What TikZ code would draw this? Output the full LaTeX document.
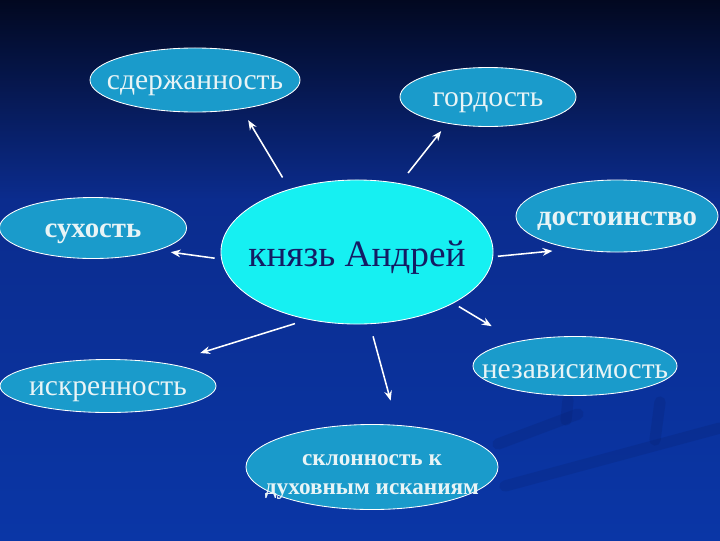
\documentclass[tikz,border=0pt]{standalone}
\usepackage{fontspec}
\setmainfont{Liberation Serif}
\usetikzlibrary{shapes,arrows.meta}
\definecolor{bgtop}{HTML}{020820}
\definecolor{bgmid}{HTML}{0B2C8E}
\definecolor{bgbot}{HTML}{0A36A6}
\definecolor{bandcol}{HTML}{061C66}
\definecolor{bubfill}{HTML}{1A9BCB}
\definecolor{corefill}{HTML}{16F0F2}
\definecolor{wordcol}{HTML}{E8F4F6}
\definecolor{corecol}{HTML}{141C64}

\begin{document}
\begin{tikzpicture}[x=0.025cm,y=-0.025cm,
  every label/.append style={text=wordcol,align=center,inner sep=0pt,yshift=-4pt,
    font=\fontsize{21}{23}\selectfont},
  big/.style={font=\fontsize{20.5}{22}\selectfont\bfseries},
  small/.style={font=\fontsize{16.5}{21}\selectfont\bfseries}]
  \tikzstyle{bubble} = [ellipse,draw=white,line width=0.6pt,fill=bubfill,inner sep=0pt]
  \tikzstyle{link} = [-{Stealth[length=7pt,width=5.5pt]},draw=white,line width=1.1pt]
  \tikzstyle{band} = [line width=8pt,draw=bandcol,opacity=0.2,line cap=round]
  \useasboundingbox (0,0) rectangle (720,540);
  \shade[top color=bgtop,bottom color=bgmid] (0,0) rectangle (720,200);
  \shade[top color=bgmid,bottom color=bgbot] (0,199) rectangle (720,540);
  \draw[band] (505,486) -- (720,428);
  \draw[band] (498,444) -- (578,414);
  \draw[band] (568,400) -- (566,420);
  \draw[band] (660,402) -- (655,440);

  \node (andrey) [ellipse,draw=white,line width=0.6pt,fill=corefill,inner sep=0pt,
    minimum width=6.8cm,minimum height=3.6cm,
    label={[text=corecol,font=\fontsize{26.5}{28}\selectfont]center:князь Андрей}] at (357,252) {};
  \node (sder) [bubble,minimum width=5.25cm,minimum height=1.6cm,
    label={center:сдержанность}] at (195,80) {};
  \node (gord) [bubble,minimum width=4.4cm,minimum height=1.475cm,
    label={center:гордость}] at (488,97) {};
  \node (sukh) [bubble,minimum width=4.675cm,minimum height=1.525cm,
    label={[big]center:сухость}] at (93,228) {};
  \node (dost) [bubble,minimum width=5.05cm,minimum height=1.8cm,
    label={[big]center:достоинство}] at (617,216) {};
  \node (nezav) [bubble,minimum width=5.1cm,minimum height=1.475cm,
    label={center:независимость}] at (575,366) {};
  \node (iskr) [bubble,minimum width=5.4cm,minimum height=1.325cm,
    label={center:искренность}] at (108,386) {};
  \node (sklon) [bubble,minimum width=6.3cm,minimum height=2.125cm,
    label={[small,yshift=-3pt]center:склонность к\\духовным исканиям}] at (372,467) {};

  \draw[link,shorten <=9.6pt,shorten >=9.2pt] (andrey.137.5) -- (sder.-32.5);
  \draw[link,shorten <=9.3pt,shorten >=6.8pt] (andrey.58.4) -- (gord.-147.9);
  \draw[link,shorten <=4.7pt,shorten >=9.2pt] (andrey.-177.1) -- (sukh.-19.2);
  \draw[link,shorten <=3.3pt,shorten >=14.9pt] (andrey.-2.8) -- (dost.-143.8);
  \draw[link,shorten <=4.5pt,shorten >=20.9pt] (andrey.-28.75) -- (nezav.157);
  \draw[link,shorten <=9.6pt,shorten >=24.8pt] (andrey.-126.8) -- (iskr.21.8);
  \draw[link,shorten <=9pt,shorten >=17.9pt] (andrey.-80.8) -- (sklon.59.4);
\end{tikzpicture}
\end{document}
